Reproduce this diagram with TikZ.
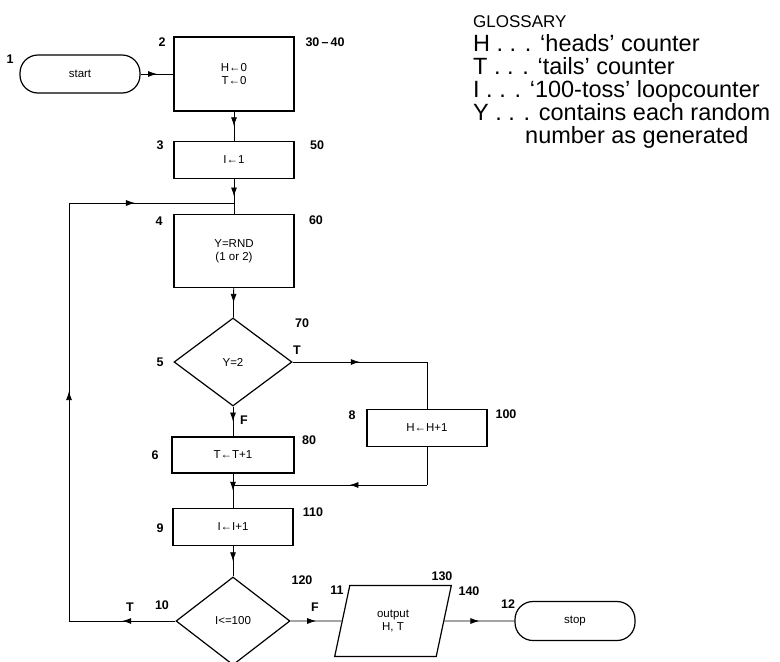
\documentclass[tikz,border=0pt]{standalone}
\usepackage{fontspec}
\setmainfont{Liberation Sans}
\usetikzlibrary{shapes.geometric, arrows.meta, decorations.markings}

\begin{document}
\begin{tikzpicture}[x=1pt, y=-1pt,
  box/.style={rectangle, draw, line width=1.2pt, minimum width=120pt, minimum height=37pt, inner sep=2pt, align=center, font=\fontsize{11.5}{13.5}\selectfont},
  terminal/.style={box, rounded corners=18pt, minimum height=38pt},
  decision/.style={diamond, draw, line width=1.2pt, inner sep=0pt, minimum width=116pt, minimum height=88pt, font=\fontsize{11.5}{13.5}\selectfont},
  io/.style={trapezium, trapezium left angle=76, trapezium right angle=104, trapezium stretches=true, draw, line width=1.2pt, minimum width=117pt, minimum height=71pt, inner sep=0pt, align=center, font=\fontsize{11.5}{13.5}\selectfont},
  num/.style={font=\bfseries\fontsize{12.5}{14}\selectfont},
  gloss/.style={anchor=base west, inner sep=0pt, font=\fontsize{23.5}{26}\selectfont},
  line/.style={line width=0.8pt},
  flow/.style={line, postaction={decorate}, decoration={markings, mark=at position #1 with {\arrow{Latex[length=9pt,width=6pt]}}}},
  flow/.default=0.5
]
\useasboundingbox (0,0) rectangle (780,662);

\node[terminal] (start) at (80,74) {start};
\node[box, minimum height=74pt] (init) at (234,74) {H←0\\T←0};
\node[box] (setI) at (234,160) {I←1};
\node[box, minimum height=73pt] (rnd) at (234,251) {Y=RND\\(1 or 2)};
\node[decision, minimum width=118pt] (toss) at (233,362) {Y=2};
\node[box, minimum width=122pt, minimum height=36pt] (tails) at (233,455) {T←T+1};
\node[box] (heads) at (427,428) {H←H+1};
\node[box] (incI) at (233,527) {I←I+1};
\node[decision, minimum width=114pt] (more) at (233,621) {I<=100};
\node[io] (out) at (393,621) {output\\H, T};
\node[terminal, minimum height=39pt] (stop) at (575,621) {stop};

% step numbers
\node[num] (s1) at (10,59) {1};
\node[num] (s2) at (162,42) {2};
\node[num] (s3) at (160,145) {3};
\node[num] (s4) at (159,221) {4};
\node[num] (s5) at (160,362) {5};
\node[num] (s6) at (155,455) {6};
\node[num] (s8) at (352,415) {8};
\node[num] (s9) at (160,528) {9};
\node[num] (s10) at (162,605) {10};
\node[num] (s11) at (337,590) {11};
\node[num] (s12) at (508,604) {12};

% line numbers
\node[num] (ln30) at (325,42) {30\,--\,40};
\node[num] (ln50) at (317,145) {50};
\node[num] (ln60) at (316,220) {60};
\node[num] (ln70) at (302,323) {70};
\node[num] (ln80) at (309,440) {80};
\node[num] (ln100) at (506,414) {100};
\node[num] (ln110) at (313,512) {110};
\node[num] (ln120) at (302,580) {120};
\node[num] (ln130) at (442,576) {130};
\node[num] (ln140) at (469,591) {140};

\node[num] (t5) at (297,350) {T};
\node[num] (f5) at (244,420) {F};
\node[num] (t10) at (130,607) {T};
\node[num] (f10) at (315,607) {F};

\draw[flow] (start) -- (init);
\draw[flow] (init) -- (setI);
\draw[flow] (setI) -- (rnd);
\draw[flow] (rnd) -- (toss);
\draw[flow] (toss) -- (tails);

\coordinate (hturn) at (heads.north |- toss.east);
\draw[flow] (toss.east) -- (hturn);
\draw[line] (hturn) -- (heads.north);
\coordinate (join) at (tails.south |- 0,485);
\coordinate (hdown) at (heads.south |- join);
\draw[line] (heads.south) -- (hdown);
\draw[flow=0.4] (hdown) -- (join);

\draw[flow] (tails) -- (incI);
\draw[flow] (incI) -- (more);

\coordinate (back) at (more.west -| 69,0);
\coordinate (top) at (back |- 0,203);
\coordinate (entry) at (rnd.north |- top);
\draw[flow] (more.west) -- (back);
\draw[flow=0.55] (back) -- (top);
\draw[flow=0.4] (top) -- (entry);

\draw[flow] (more.east) -- (out);
\draw[flow] (out) -- (stop);

% glossary
\node[anchor=base west, inner sep=0pt, font=\fontsize{17}{19}\selectfont] (glosshead) at (473,27) {GLOSSARY};
\node[gloss] (gH) at (473,51) {H . . . ‘heads’ counter};
\node[gloss] (gT) at (473,74) {T . . . ‘tails’ counter};
\node[gloss] (gI) at (473,97) {I . . . ‘100-toss’ loopcounter};
\node[gloss] (gY) at (473,120) {Y . . . contains each random};
\node[gloss] (gY2) at (525,143) {number as generated};
\end{tikzpicture}
\end{document}
